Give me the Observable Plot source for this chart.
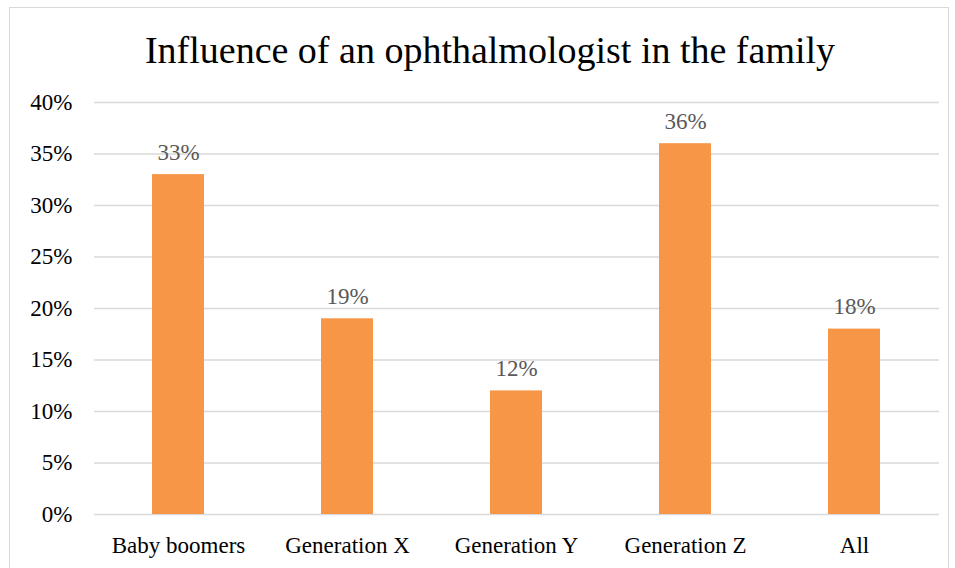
<!DOCTYPE html>
<html>
<head>
<meta charset="utf-8">
<script src="https://cdn.jsdelivr.net/npm/d3@7"></script>
<script src="https://cdn.jsdelivr.net/npm/@observablehq/plot@0.6"></script>
<style>
  html, body { margin: 0; padding: 0; background: #fff; }
  #wrap { position: relative; width: 955px; height: 568px; overflow: hidden; background: #fff; }
  #frame { position: absolute; left: 9px; top: 7px; width: 940px; height: 580px; border: 1px solid #d9d9d9; box-sizing: border-box; pointer-events: none; }
  #title { height: 80px; width: 955px; box-sizing: border-box; padding-left: 25px; text-align: center; font-family: "Liberation Serif", serif; font-size: 38px; line-height: 100px; color: #000; white-space: nowrap; }
  #chart svg text { font-family: "Liberation Serif", serif; }
</style>
</head>
<body>
<div id="wrap">
  <div id="frame"></div>
  <div id="title"><span>Influence of an ophthalmologist in the family</span></div>
  <div id="chart"></div>
</div>
<script>
const categories = ["Baby boomers", "Generation X", "Generation Y", "Generation Z", "All"];
const values = [33, 19, 12, 36, 18];
const yTicks = [0, 5, 10, 15, 20, 25, 30, 35, 40];

const data = categories.map((c, i) => ({category: c, value: values[i]}));
const serif = "Liberation Serif, serif";

const chart = Plot.plot({
  width: 955,
  height: 488,
  marginTop: 22,
  marginBottom: 54,
  marginLeft: 94,
  marginRight: 16,
  style: { fontFamily: serif, background: "transparent" },
  x: { domain: categories, paddingInner: 0.69, paddingOuter: 0.345, label: null },
  y: { domain: [0, 40], ticks: yTicks, label: null },
  marks: [
    Plot.ruleY(yTicks, { stroke: "#d9d9d9", strokeWidth: 1.5 }),
    Plot.barY(data, { x: "category", y: "value", fill: "#F79646" }),
    Plot.text(data, { x: "category", y: "value", text: d => d.value + "%", dy: -22, fill: "#595959", fontSize: 23, fontFamily: serif }),
    Plot.axisY({ ticks: yTicks, tickFormat: d => d + "%", tickSize: 0, tickPadding: 22, fontSize: 23, fontFamily: serif, fill: "#000" }),
    Plot.axisX({ tickSize: 0, tickPadding: 22, fontSize: 23, fontFamily: serif, fill: "#000" })
  ]
});
document.getElementById("chart").appendChild(chart);
</script>
</body>
</html>
